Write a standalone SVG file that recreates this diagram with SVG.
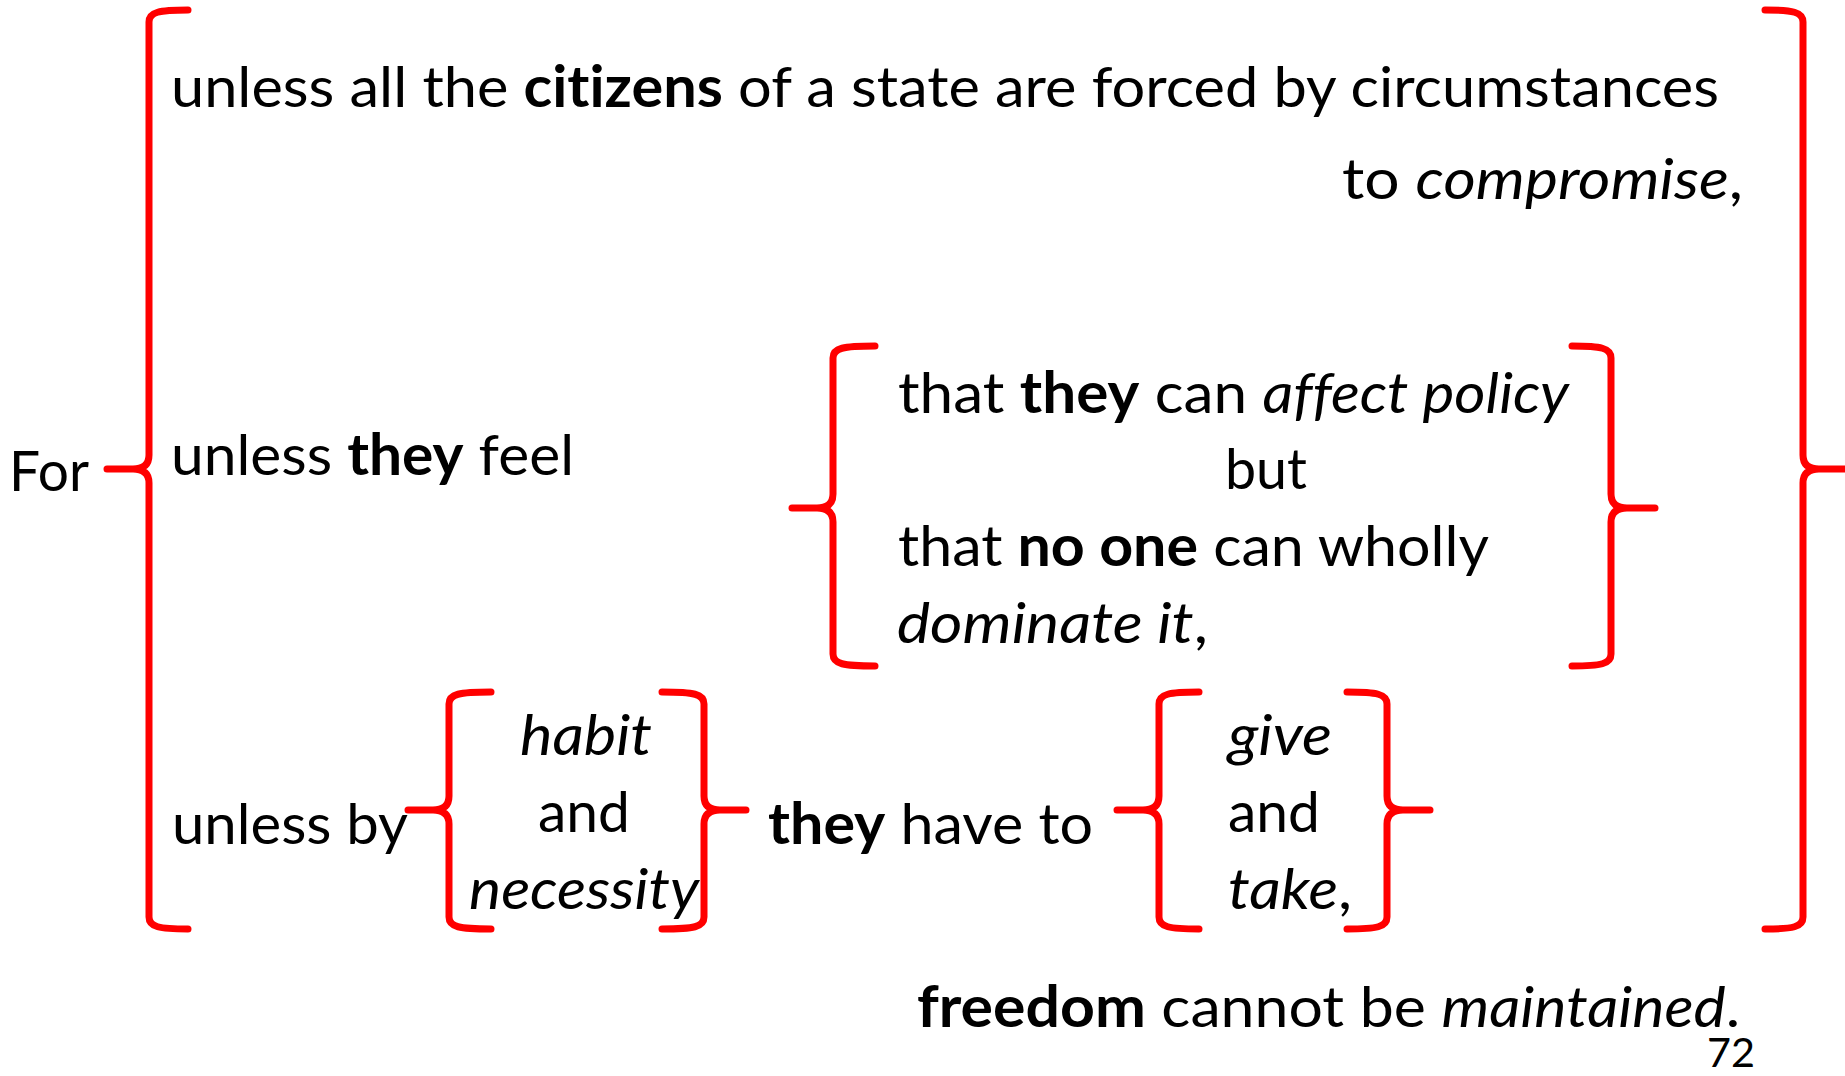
<svg xmlns="http://www.w3.org/2000/svg" width="1845" height="1076" viewBox="0 0 1845 1076">
<style>
  text { font-family: Lato, "Open Sans", "Liberation Sans", sans-serif; font-size: 57px; fill: #000; font-variant-ligatures: none; font-feature-settings: "liga" 0; }
  .b { font-weight: 700; }
  .i { font-style: italic; }
  .small { font-size: 40px; }
  .brace { fill: none; stroke: #FF0000; stroke-width: 7; stroke-linecap: round; stroke-linejoin: round; }
</style>
<rect width="1845" height="1076" fill="#FFFFFF"/>
<g id="connectors">
  <path id="brace-outer-left" class="brace" d="M188,10 C159,10 149,12 149,22 L149,455 C149,464 144,469 133,469 L107,469 M133,469 C144,469 149,474 149,483 L149,917 C149,927 159,929 188,929"/>
  <path id="brace-outer-right" class="brace" d="M1765,10 C1793,10 1803,12 1803,22 L1803,455 C1803,464 1808,469 1819,469 L1850,469 M1819,469 C1808,469 1803,474 1803,483 L1803,917 C1803,927 1793,929 1765,929"/>
  <path id="brace-feel-left" class="brace" d="M875,346 C843,346 833,348 833,358 L833,494 C833,503 828,508 817,508 L792,508 M817,508 C828,508 833,513 833,522 L833,654 C833,664 843,666 875,666"/>
  <path id="brace-feel-right" class="brace" d="M1572,346 C1601,346 1611,348 1611,358 L1611,494 C1611,503 1616,508 1627,508 L1655,508 M1627,508 C1616,508 1611,513 1611,522 L1611,654 C1611,664 1601,666 1572,666"/>
  <path id="brace-habit-left" class="brace" d="M491,692 C459,692 449,694 449,704 L449,796 C449,805 444,810 433,810 L408,810 M433,810 C444,810 449,815 449,824 L449,917 C449,927 459,929 491,929"/>
  <path id="brace-habit-right" class="brace" d="M662,692 C694,692 704,694 704,704 L704,796 C704,805 709,810 720,810 L746,810 M720,810 C709,810 704,815 704,824 L704,917 C704,927 694,929 662,929"/>
  <path id="brace-give-left" class="brace" d="M1199,692 C1169,692 1159,694 1159,704 L1159,796 C1159,805 1154,810 1143,810 L1117,810 M1143,810 C1154,810 1159,815 1159,824 L1159,917 C1159,927 1169,929 1199,929"/>
  <path id="brace-give-right" class="brace" d="M1347,692 C1377,692 1387,694 1387,704 L1387,796 C1387,805 1392,810 1403,810 L1430,810 M1403,810 C1392,810 1387,815 1387,824 L1387,917 C1387,927 1377,929 1347,929"/>
</g>
<g id="node-for">
  <text x="9" y="491" textLength="80" lengthAdjust="spacingAndGlyphs">For</text>
</g>
<g id="node-citizens">
  <text x="171" y="107" textLength="1548" lengthAdjust="spacingAndGlyphs">unless all the <tspan class="b">citizens</tspan> of a state are forced by circumstances</text>
  <text x="1342" y="199" textLength="401" lengthAdjust="spacingAndGlyphs">to <tspan class="i">compromise</tspan>,</text>
</g>
<g id="node-feel">
  <text x="171" y="475" textLength="403" lengthAdjust="spacingAndGlyphs">unless <tspan class="b">they</tspan> feel</text>
</g>
<g id="node-policy">
  <text x="898" y="413" textLength="671" lengthAdjust="spacingAndGlyphs">that <tspan class="b">they</tspan> can <tspan class="i">affect policy</tspan></text>
  <text x="1225" y="489" textLength="82" lengthAdjust="spacingAndGlyphs">but</text>
  <text x="898" y="566" textLength="591" lengthAdjust="spacingAndGlyphs">that <tspan class="b">no one</tspan> can wholly</text>
  <text x="897" y="643" textLength="311" lengthAdjust="spacingAndGlyphs"><tspan class="i">dominate it</tspan>,</text>
</g>
<g id="node-unless-by">
  <text x="172" y="844" textLength="236" lengthAdjust="spacingAndGlyphs">unless by</text>
</g>
<g id="node-habit">
  <text x="520" y="755" textLength="132" lengthAdjust="spacingAndGlyphs" class="i">habit</text>
  <text x="538" y="832" textLength="92" lengthAdjust="spacingAndGlyphs">and</text>
  <text x="469" y="909" textLength="230" lengthAdjust="spacingAndGlyphs" class="i">necessity</text>
</g>
<g id="node-have-to">
  <text x="768" y="844" textLength="325" lengthAdjust="spacingAndGlyphs"><tspan class="b">they</tspan> have to</text>
</g>
<g id="node-give-take">
  <text x="1228" y="755" textLength="104" lengthAdjust="spacingAndGlyphs" class="i">give</text>
  <text x="1228" y="832" textLength="92" lengthAdjust="spacingAndGlyphs">and</text>
  <text x="1228" y="909" textLength="124" lengthAdjust="spacingAndGlyphs"><tspan class="i">take</tspan>,</text>
</g>
<g id="node-freedom">
  <text x="917" y="1027" textLength="823" lengthAdjust="spacingAndGlyphs"><tspan class="b">freedom</tspan> cannot be <tspan class="i">maintained</tspan>.</text>
</g>
<g id="node-page">
  <text class="small" x="1707" y="1067" textLength="48" lengthAdjust="spacingAndGlyphs">72</text>
</g>
</svg>
